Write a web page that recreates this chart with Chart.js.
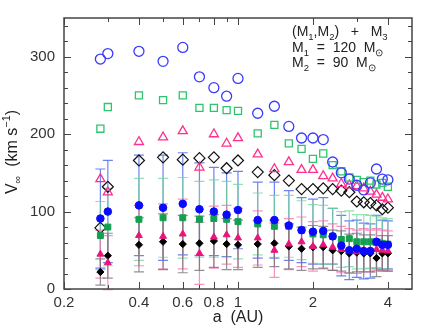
<!DOCTYPE html>
<html>
<head>
<meta charset="utf-8">
<script src="https://cdn.jsdelivr.net/npm/chart.js@4"></script>
<style>
  html, body { margin: 0; padding: 0; background: #fff; }
</style>
</head>
<body>
<canvas id="vinf-chart" width="438" height="327"></canvas>
<script>
// separation a (AU)
const aValues = [0.28, 0.3, 0.4, 0.5, 0.6, 0.7, 0.8, 0.9, 1.0, 1.2, 1.4, 1.6, 1.8, 2.0, 2.2, 2.4, 2.6, 2.8, 3.0, 3.2, 3.4, 3.6, 3.8, 4.0];

// open symbols (upper envelopes)
const openCircle   = [297, 304, 307, 294, 312, 274, 260, 249, 272, 227, 236, 210, 195, 195, 193, 164, 150, 142, 134, 128, 137, 155, 142, 141];
const openSquare   = [207, 235, 250, 244, 250, 234, 234, 231, 230, 201, 212, 188, 181, 168, 175, 160, 152, 144, 141, 138, 140, 135, 137, 132];
const openTriangle = [142, 125, 190, 196, 204, 157, 200, 188, 195, 174, 155, 164, 154, 154, 146, 143, 136, 134, 133, 130, 126, 122, 118, 116];
const openDiamond  = [79, 132, 166, 170, 167, 169, 170, 156, 166, 151, 147, 140, 129, 129, 130, 129, 127, 125, 113, 112, 111, 108, 103, 105];

// filled symbols (means) and their error bars
const meanCircle   = [91, 100, 108, 105, 110, 103, 100, 96, 102, 89, 89, 82, 76, 74, 75, 68, 56, 50, 52, 49, 49, 61, 57, 57];
const meanSquare   = [69, 80, 90, 92, 92, 90, 91, 90, 87, 84, 81, 81, 76, 71, 70, 68, 64, 65, 61, 61, 61, 60, 59, 58];
const meanTriangle = [45, 34, 69, 68, 71, 46, 67, 70, 66, 66, 50, 58, 61, 55, 57, 54, 51, 49, 48, 50, 49, 51, 50, 49];
const meanDiamond  = [22, 43, 57, 61, 58, 59, 62, 58, 57, 58, 59, 55, 52, 54, 54, 50, 49, 46, 47, 46, 46, 40, 46, 46];

const errCircle   = [64, 66, 65, 68, 66, 60, 57, 54, 50, 49, 49, 45, 42, 42, 43, 36, 39, 38, 37, 36, 35, 34, 32, 31];
const errSquare   = [44, 50, 53, 51, 52, 49, 50, 49, 48, 40, 40, 40, 38, 38, 38, 36, 36, 36, 35, 35, 34, 34, 33, 33];
const errTriangle = [31, 35, 39, 42, 45, 40, 40, 38, 38, 35, 35, 33, 32, 32, 31, 30, 30, 29, 28, 28, 27, 27, 26, 26];
const errDiamond  = [17, 29, 35, 36, 37, 35, 34, 33, 32, 30, 30, 29, 28, 28, 27, 26, 26, 25, 25, 24, 24, 24, 23, 23];

// axes
const xTickLabels = [0.2, 0.4, 0.6, 0.8, 1, 2, 4];
const xTickMarks = [0.2, 0.3, 0.4, 0.5, 0.6, 0.7, 0.8, 0.9, 1, 2, 3, 4];
const yTickLabels = [0, 100, 200, 300];

const FONT = '"Liberation Sans", Arial, sans-serif';

function points(ys) {
    return aValues.map((a, i) => ({ x: a, y: ys[i] }));
}

// draw a line of text made of normal / subscript / superscript pieces
function richText(ctx, parts, x, y, size, align) {
    let total = 0;
    parts.forEach(p => {
        ctx.font = (p.sub || p.sup ? size * 0.68 : size) + 'px ' + FONT;
        p.w = ctx.measureText(p.t).width;
        total += p.w;
    });
    let cx = align === 'center' ? x - total / 2 : x;
    parts.forEach(p => {
        ctx.font = (p.sub || p.sup ? size * 0.68 : size) + 'px ' + FONT;
        const dy = p.sub ? size * 0.28 : (p.sup ? -size * 0.42 : 0);
        ctx.fillText(p.t, cx, y + dy);
        cx += p.w;
    });
}

const errorBars = {
    id: 'errorBars',
    beforeDatasetsDraw(chart) {
        const { ctx, scales: { x, y } } = chart;
        ctx.save();
        chart.data.datasets.forEach(ds => {
            if (!ds.errors) return;
            ctx.strokeStyle = ds.errorColor;
            ctx.lineWidth = 1.2;
            ctx.beginPath();
            ds.data.forEach((p, i) => {
                const px = x.getPixelForValue(p.x);
                const top = y.getPixelForValue(p.y + ds.errors[i]);
                const bot = y.getPixelForValue(p.y - ds.errors[i]);
                ctx.moveTo(px, top); ctx.lineTo(px, bot);
                ctx.moveTo(px - 5, top); ctx.lineTo(px + 5, top);
                ctx.moveTo(px - 5, bot); ctx.lineTo(px + 5, bot);
            });
            ctx.stroke();
        });
        ctx.restore();
    }
};

const frameAndText = {
    id: 'frameAndText',
    afterDraw(chart) {
        const { ctx, chartArea: area, scales: { x, y } } = chart;
        ctx.save();
        ctx.strokeStyle = '#444';
        ctx.lineWidth = 1.5;
        ctx.strokeRect(area.left, area.top, area.right - area.left, area.bottom - area.top);

        // inward ticks on all four sides
        ctx.lineWidth = 1;
        ctx.beginPath();
        for (let v = 0; v <= 340; v += 20) {
            const py = Math.round(y.getPixelForValue(v)) + 0.5;
            const len = v % 100 === 0 ? 7 : 4;
            ctx.moveTo(area.left, py); ctx.lineTo(area.left + len, py);
            ctx.moveTo(area.right, py); ctx.lineTo(area.right - len, py);
        }
        xTickMarks.forEach(v => {
            const px = Math.round(x.getPixelForValue(v)) + 0.5;
            const len = xTickLabels.includes(v) ? 7 : 4;
            ctx.moveTo(px, area.bottom); ctx.lineTo(px, area.bottom - len);
            ctx.moveTo(px, area.top); ctx.lineTo(px, area.top + len);
        });
        ctx.stroke();

        ctx.fillStyle = '#222';
        ctx.textBaseline = 'alphabetic';

        // x title
        richText(ctx, [{ t: 'a  (AU)' }], 238, 322, 16, 'center');

        // y title, rotated
        ctx.save();
        ctx.translate(17, 152);
        ctx.rotate(-Math.PI / 2);
        richText(ctx, [
            { t: 'V' }, { t: '\u221E', sub: true }, { t: '  (km s' }, { t: '\u22121', sup: true }, { t: ')' }
        ], 0, 0, 16, 'center');
        ctx.restore();

        // annotation
        const ax = 292;
        richText(ctx, [
            { t: '(M' }, { t: '1', sub: true }, { t: ',M' }, { t: '2', sub: true }, { t: ')   +   M' }, { t: '3', sub: true }
        ], ax, 36, 14);
        richText(ctx, [
            { t: 'M' }, { t: '1', sub: true }, { t: '  =  120  M' }, { t: '\u2299', sub: true }
        ], ax, 52, 14);
        richText(ctx, [
            { t: 'M' }, { t: '2', sub: true }, { t: '  =  90  M' }, { t: '\u2299', sub: true }
        ], ax, 67, 14);
        ctx.restore();
    }
};

const ctx = document.getElementById('vinf-chart').getContext('2d');
const chart = new Chart(ctx, {
    type: 'scatter',
    data: {
        datasets: [
            { data: points(meanCircle), pointStyle: 'circle', pointRadius: 3.8, backgroundColor: '#0a0aff', borderColor: '#0a0aff', borderWidth: 1,
              errors: errCircle, errorColor: 'rgba(60, 90, 235, 0.75)' },
            { data: points(meanSquare), pointStyle: 'rect', pointRadius: 4.2, backgroundColor: '#12a050', borderColor: '#12a050', borderWidth: 1,
              errors: errSquare, errorColor: 'rgba(110, 215, 150, 0.75)' },
            { data: points(meanTriangle), pointStyle: 'triangle', pointRadius: 4, backgroundColor: '#e8157a', borderColor: '#e8157a', borderWidth: 1,
              errors: errTriangle, errorColor: 'rgba(245, 110, 170, 0.75)' },
            { data: points(meanDiamond), pointStyle: 'rectRot', pointRadius: 3.6, backgroundColor: '#000', borderColor: '#000', borderWidth: 1,
              errors: errDiamond, errorColor: 'rgba(110, 110, 110, 0.75)' },
            { data: points(openCircle), pointStyle: 'circle', pointRadius: 5, backgroundColor: 'rgba(0,0,0,0)', borderColor: '#3a3aff', borderWidth: 1.3 },
            { data: points(openSquare), pointStyle: 'rect', pointRadius: 5, backgroundColor: 'rgba(0,0,0,0)', borderColor: '#2ec46e', borderWidth: 1.3 },
            { data: points(openTriangle), pointStyle: 'triangle', pointRadius: 5.2, backgroundColor: 'rgba(0,0,0,0)', borderColor: '#ff2f8e', borderWidth: 1.3 },
            { data: points(openDiamond), pointStyle: 'rectRot', pointRadius: 5.5, backgroundColor: 'rgba(0,0,0,0)', borderColor: '#111', borderWidth: 1.2 }
        ]
    },
    options: {
        responsive: false,
        animation: false,
        layout: { padding: { top: 15, right: 26, left: 0, bottom: 0 } },
        plugins: { legend: { display: false }, tooltip: { enabled: false } },
        elements: { point: { hoverRadius: 0 } },
        scales: {
            x: {
                type: 'logarithmic',
                min: 0.2,
                max: 5,
                grid: { display: false, drawTicks: false },
                border: { display: false },
                afterBuildTicks: s => { s.ticks = xTickLabels.map(v => ({ value: v })); },
                afterFit: s => { s.height = 38; },
                ticks: {
                    autoSkip: false,
                    maxRotation: 0,
                    padding: 5,
                    color: '#333',
                    font: { family: FONT, size: 15 },
                    callback: v => String(v)
                }
            },
            y: {
                min: 0,
                max: 350,
                grid: { display: false, drawTicks: false },
                border: { display: false },
                afterBuildTicks: s => { s.ticks = yTickLabels.map(v => ({ value: v })); },
                afterFit: s => { s.width = 64; },
                ticks: {
                    padding: 9,
                    color: '#333',
                    font: { family: FONT, size: 15 },
                    callback: v => String(v)
                }
            }
        }
    },
    plugins: [errorBars, frameAndText]
});
</script>
</body>
</html>
